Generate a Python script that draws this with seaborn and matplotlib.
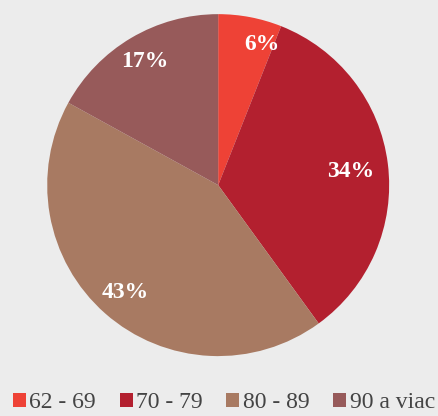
import matplotlib
matplotlib.use("Agg")
import numpy as np
import matplotlib.pyplot as plt
import seaborn as sns

categories = ["62 - 69", "70 - 79", "80 - 89", "90 a viac"]
values = [6, 34, 43, 17]
colors = ["#ee4236", "#b3202f", "#a87a62", "#975a5a"]

sns.set_theme(style="white")
plt.rcParams['font.family'] = ['Liberation Serif', 'DejaVu Serif']

fig = plt.figure(figsize=(4.39, 4.16), dpi=100)
fig.patch.set_facecolor("#ececec")
ax = fig.add_axes([0.497 - 0.3895, 0.555 - 0.411, 0.779, 0.822])
ax.set_facecolor("none")
palette = sns.color_palette(colors)
wedges, texts, autotexts = ax.pie(values, colors=palette, startangle=90, counterclock=False,
                                  autopct=lambda p: f"{p:.0f}%", pctdistance=0.83,
                                  wedgeprops=dict(linewidth=0))
label_r = [0.86, 0.78, 0.83, 0.84]
label_shift = [-6.5, -1.5, 0.5, 0.0]
for t, w, r, sh in zip(autotexts, wedges, label_r, label_shift):
    ang = np.deg2rad((w.theta1 + w.theta2) / 2 + sh)
    t.set_position((r * np.cos(ang), r * np.sin(ang)))
    t.set_color("white")
    t.set_fontweight("bold")
    t.set_fontsize(17)
ax.set_aspect("equal")
ax.set_xlim(-1, 1)
ax.set_ylim(-1, 1)

leg = fig.legend(wedges, categories, loc="center", bbox_to_anchor=(0.51, 0.032), ncol=4,
                 frameon=False, fontsize=17, handlelength=0.55, handleheight=0.55,
                 handletextpad=0.15, columnspacing=1.0, labelcolor="#444444")
fig.savefig("out.png", dpi=100, facecolor=fig.get_facecolor())
